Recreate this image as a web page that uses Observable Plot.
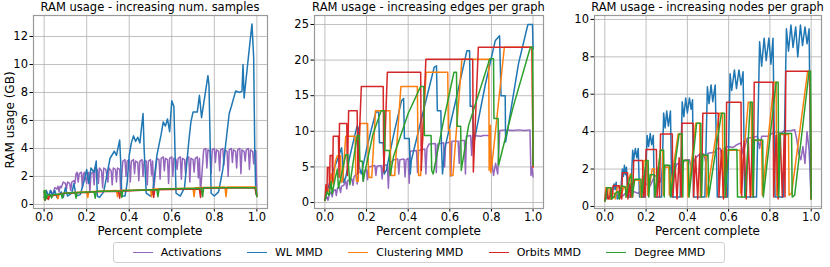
<!DOCTYPE html>
<html><head><meta charset="utf-8">
<script src="https://cdn.jsdelivr.net/npm/d3@7"></script>
<script src="https://cdn.jsdelivr.net/npm/@observablehq/plot@0.6"></script>
<style>
body{margin:0;background:#fff;}
#root{position:relative;width:830px;height:267px;font-family:"DejaVu Sans",sans-serif;color:#000;overflow:hidden}
.pl{position:absolute;top:0}
.title{position:absolute;top:0;font-size:11.5px;white-space:nowrap;transform:translateX(-50%);line-height:15px}
.xlab{position:absolute;top:226px;font-size:12px;white-space:nowrap;transform:translateX(-50%);line-height:11px}
.ylab{position:absolute;font-size:12px;white-space:nowrap;transform:translate(-50%,-50%) rotate(-90deg);line-height:14px}
#legend{position:absolute;left:113px;top:242px;width:612px;height:21px;border:1px solid #d0d0d0;border-radius:3px;display:flex;align-items:center;justify-content:space-around;font-size:11px;box-sizing:border-box;padding:0 6px}
.li{display:flex;align-items:center;gap:8px}
.sw{width:20px;height:0;border-top:1.5px solid}
</style></head>
<body><div id="root"></div>
<script>
const seriesNames = ["Activations","WL MMD","Clustering MMD","Orbits MMD","Degree MMD"];
const colors = ["#9467bd","#1f77b4","#ff7f0e","#d62728","#2ca02c"];
const titles = ["RAM usage - increasing num. samples","RAM usage - increasing edges per graph","RAM usage - increasing nodes per graph"];
const xTicks = [0,0.2,0.4,0.6,0.8,1.0];
const yTicks1 = [0,2,4,6,8,10,12];
const yTicks2 = [0,5,10,15,20,25];
const yTicks3 = [0,2,4,6,8,10];

// Panel 1: increasing num. samples
const p1Act = [[0,0.5],[0.01,1.0],[0.02,0.6],[0.03,1.0],[0.04,0.7],[0.05,1.2],[0.06,1.1],[0.065,1.3],[0.07,0.9],[0.075,1.3],[0.08,1.2],[0.09,1.6],[0.1,1.5],[0.105,1.1],[0.11,1.6],[0.12,1.5],[0.125,1.0],[0.13,1.6],[0.14,1.7],[0.145,1.5],[0.15,2.2],[0.155,2.3],[0.16,1.6],[0.165,2.2],[0.175,2.3],[0.18,1.2],[0.185,2.2],[0.19,2.3],[0.2,1.5],[0.205,2.2],[0.21,2.3],[0.215,0.9],[0.22,2.2],[0.23,2.3],[0.235,1.4],[0.24,2.6],[0.25,2.5],[0.255,1.5],[0.26,2.6],[0.27,2.4],[0.275,1.2],[0.28,2.6],[0.29,2.5],[0.3,1.6],[0.305,2.6],[0.315,2.4],[0.32,1.4],[0.325,2.6],[0.335,2.5],[0.34,1.6],[0.345,2.6],[0.355,2.5],[0.36,1.0],[0.37,3.1],[0.38,3.2],[0.385,2.0],[0.39,3.1],[0.4,3.2],[0.405,1.6],[0.41,3.1],[0.42,3.2],[0.425,2.2],[0.43,3.1],[0.44,3.0],[0.445,1.7],[0.45,3.1],[0.46,3.2],[0.465,2.0],[0.47,3.1],[0.48,3.1],[0.485,1.4],[0.49,3.1],[0.5,3.2],[0.505,2.1],[0.51,3.1],[0.515,1.0],[0.53,3.3],[0.54,3.2],[0.545,1.8],[0.55,3.3],[0.56,3.4],[0.565,2.4],[0.57,3.3],[0.58,3.2],[0.585,1.5],[0.59,3.3],[0.6,3.4],[0.605,2.0],[0.61,3.3],[0.62,3.2],[0.625,2.5],[0.63,3.3],[0.64,3.4],[0.645,1.8],[0.65,3.3],[0.66,3.2],[0.665,2.2],[0.67,3.3],[0.68,3.4],[0.685,1.6],[0.69,3.3],[0.7,3.2],[0.705,2.3],[0.71,3.3],[0.72,3.4],[0.725,1.9],[0.73,3.3],[0.735,0.8],[0.75,3.9],[0.76,4.0],[0.765,2.6],[0.77,3.9],[0.78,3.8],[0.785,2.2],[0.79,3.9],[0.8,4.0],[0.805,3.0],[0.81,3.9],[0.82,3.8],[0.825,2.4],[0.83,3.9],[0.84,4.0],[0.845,2.8],[0.85,3.9],[0.86,3.8],[0.865,2.0],[0.87,3.9],[0.88,4.0],[0.885,3.0],[0.89,3.9],[0.9,3.8],[0.905,2.6],[0.91,3.9],[0.92,4.0],[0.925,2.2],[0.93,3.9],[0.94,3.8],[0.945,3.1],[0.95,3.9],[0.96,4.0],[0.965,2.5],[0.97,3.9],[0.98,3.8],[0.985,2.9],[0.99,3.9],[0.995,3.8],[1.0,0.7]];
const p1WL = [[0,0.5],[0.01,1.0],[0.02,0.5],[0.03,1.0],[0.04,0.6],[0.05,1.0],[0.06,0.5],[0.08,0.9],[0.09,0.5],[0.1,1.2],[0.11,0.6],[0.13,0.8],[0.14,1.5],[0.15,0.6],[0.17,0.7],[0.19,1.8],[0.2,2.5],[0.21,1.5],[0.22,2.6],[0.235,2.3],[0.245,3.1],[0.25,0.6],[0.26,0.5],[0.28,0.9],[0.3,2.5],[0.31,3.3],[0.33,3.8],[0.34,3.5],[0.355,4.6],[0.36,3.0],[0.365,0.6],[0.38,0.6],[0.39,1.5],[0.4,3.5],[0.41,4.4],[0.42,4.9],[0.43,4.5],[0.44,4.8],[0.45,4.4],[0.465,6.5],[0.47,4.0],[0.48,0.8],[0.5,0.6],[0.51,0.8],[0.53,3.5],[0.55,5.0],[0.56,5.9],[0.57,5.6],[0.58,6.1],[0.59,5.2],[0.6,7.4],[0.61,7.0],[0.62,0.8],[0.64,0.6],[0.66,1.2],[0.68,4.5],[0.69,5.9],[0.7,6.6],[0.72,6.6],[0.73,7.8],[0.74,6.2],[0.77,9.2],[0.775,8.5],[0.785,0.8],[0.8,0.6],[0.82,0.9],[0.84,2.5],[0.87,6.5],[0.88,7.0],[0.9,8.1],[0.92,8.0],[0.93,8.1],[0.935,10.0],[0.94,7.6],[0.96,10.5],[0.977,12.9],[0.985,10.5],[0.99,4.0],[0.995,0.8],[1.0,0.6]];
const p1Clu = [[0,0.4],[0.01,0.5],[0.03,0.6],[0.06,0.7],[0.065,0.4],[0.07,0.75],[0.1,0.8],[0.14,0.85],[0.2,0.9],[0.205,0.5],[0.21,0.9],[0.34,1.0],[0.345,0.55],[0.35,1.0],[0.5,1.05],[0.505,0.55],[0.51,1.1],[0.7,1.15],[0.705,0.55],[0.71,1.2],[0.85,1.25],[0.855,0.55],[0.86,1.25],[0.995,1.25],[1.0,0.6]];
const p1Orb = [[0,0.9],[0.005,0.3],[0.01,0.6],[0.02,0.35],[0.025,0.6],[0.06,0.7],[0.1,0.8],[0.2,0.85],[0.24,0.9],[0.35,0.95],[0.355,0.45],[0.36,0.95],[0.51,1.05],[0.515,0.5],[0.52,1.05],[0.73,1.1],[0.735,0.5],[0.74,1.15],[0.99,1.2],[1.0,0.6]];
const p1Deg = [[0,1.0],[0.003,0.3],[0.006,1.0],[0.01,0.4],[0.015,0.65],[0.03,0.7],[0.035,0.45],[0.04,0.7],[0.08,0.75],[0.085,0.45],[0.09,0.8],[0.145,0.85],[0.15,0.45],[0.155,0.85],[0.235,0.9],[0.24,0.45],[0.245,0.95],[0.36,0.95],[0.365,0.5],[0.37,1.0],[0.53,1.05],[0.535,0.55],[0.54,1.1],[0.74,1.15],[0.745,0.55],[0.75,1.2],[0.995,1.2],[1.0,0.55]];

// Panel 2: increasing edges per graph
const p2Act = [[0,0.3],[0.01,0.8],[0.015,0.3],[0.02,1.0],[0.03,1.5],[0.035,0.8],[0.04,1.6],[0.05,1.8],[0.055,1.0],[0.06,2.0],[0.07,2.2],[0.075,1.4],[0.08,2.3],[0.09,2.4],[0.1,3.0],[0.105,1.9],[0.11,3.1],[0.13,3.3],[0.135,2.4],[0.14,3.6],[0.15,4.0],[0.155,2.6],[0.16,4.2],[0.18,4.4],[0.185,3.0],[0.19,4.5],[0.2,4.6],[0.205,3.2],[0.21,5.0],[0.24,5.2],[0.245,3.8],[0.25,5.1],[0.27,5.2],[0.275,3.3],[0.28,5.2],[0.3,5.3],[0.305,2.0],[0.31,5.4],[0.33,6.0],[0.35,6.1],[0.355,4.0],[0.36,6.0],[0.38,6.1],[0.385,3.6],[0.39,6.0],[0.4,6.2],[0.405,2.7],[0.41,7.2],[0.44,7.3],[0.445,4.2],[0.45,7.3],[0.48,7.5],[0.485,4.0],[0.49,7.6],[0.5,8.2],[0.53,8.3],[0.535,4.2],[0.54,8.2],[0.57,8.4],[0.575,5.0],[0.58,8.3],[0.6,8.5],[0.605,3.7],[0.61,8.6],[0.64,8.6],[0.645,5.5],[0.65,8.7],[0.67,8.7],[0.675,4.0],[0.68,9.3],[0.7,9.4],[0.705,6.6],[0.71,9.4],[0.75,9.3],[0.76,9.4],[0.79,9.4],[0.8,6.0],[0.81,3.8],[0.82,5.5],[0.83,4.0],[0.84,10.1],[0.87,10.2],[0.9,10.1],[0.93,10.2],[0.96,10.1],[0.985,10.2],[0.99,3.8],[0.995,5.0],[1.0,3.6]];
const p2WL = [[0,0.3],[0.02,2.5],[0.04,4.5],[0.06,6.0],[0.08,7.7],[0.085,6.0],[0.09,2.8],[0.1,3.5],[0.12,6.5],[0.14,9.0],[0.155,10.8],[0.16,10.5],[0.165,5.0],[0.175,4.0],[0.2,7.5],[0.225,10.5],[0.245,12.7],[0.258,12.7],[0.262,8.4],[0.28,8.4],[0.285,4.0],[0.295,4.5],[0.33,9.5],[0.368,14.3],[0.378,14.6],[0.382,9.0],[0.405,9.0],[0.41,4.0],[0.415,5.9],[0.47,12.5],[0.525,19.0],[0.536,19.2],[0.54,12.9],[0.557,12.9],[0.56,7.8],[0.565,4.0],[0.575,7.5],[0.63,14.5],[0.682,21.3],[0.695,21.3],[0.698,13.5],[0.71,13.5],[0.713,8.0],[0.77,16.5],[0.818,22.7],[0.839,23.4],[0.846,15.0],[0.866,15.0],[0.868,8.5],[0.93,19.5],[0.975,25.0],[0.997,25.0],[1.0,21.6]];
const p2Clu = [[0,0.3],[0.01,2.0],[0.02,1.5],[0.03,4.0],[0.04,2.5],[0.05,5.8],[0.06,6.6],[0.075,6.6],[0.078,2.8],[0.085,3.0],[0.1,9.3],[0.145,9.3],[0.148,4.5],[0.152,3.0],[0.16,3.0],[0.168,11.1],[0.205,11.1],[0.208,5.5],[0.212,3.5],[0.225,3.5],[0.243,12.9],[0.312,12.9],[0.315,6.5],[0.318,3.8],[0.335,3.8],[0.365,16.3],[0.444,16.3],[0.447,8.0],[0.45,3.8],[0.46,3.8],[0.486,18.3],[0.59,18.3],[0.593,10.2],[0.6,10.2],[0.603,3.8],[0.615,3.8],[0.658,20.1],[0.787,20.1],[0.789,4.5],[0.79,10.8],[0.795,10.8],[0.797,4.2],[0.807,6.6],[0.862,21.8],[0.995,21.8],[1.0,5.0]];
const p2Orb = [[0,0.3],[0.005,2.5],[0.01,1.5],[0.012,4.9],[0.02,4.9],[0.022,2.0],[0.025,6.6],[0.035,6.6],[0.037,3.0],[0.04,9.3],[0.065,9.3],[0.068,3.5],[0.07,11.1],[0.105,11.1],[0.108,3.8],[0.114,12.9],[0.155,12.9],[0.158,4.0],[0.175,16.3],[0.28,16.3],[0.283,4.3],[0.3,18.3],[0.46,18.3],[0.463,4.5],[0.485,20.1],[0.71,20.1],[0.713,4.3],[0.737,21.8],[0.995,21.8],[1.0,5.0]];
const p2Deg = [[0,0.3],[0.01,1.5],[0.02,1.0],[0.03,3.0],[0.035,1.2],[0.05,3.5],[0.06,4.7],[0.065,2.0],[0.08,4.0],[0.1,6.7],[0.11,6.7],[0.115,4.5],[0.12,2.5],[0.14,6.5],[0.155,9.4],[0.165,9.4],[0.168,5.8],[0.18,5.8],[0.183,3.0],[0.23,9.5],[0.27,12.9],[0.285,12.9],[0.288,7.3],[0.31,7.3],[0.313,3.8],[0.33,6.5],[0.4,12.5],[0.46,16.3],[0.475,16.3],[0.478,9.4],[0.51,9.4],[0.513,4.5],[0.52,4.0],[0.57,11.5],[0.62,18.3],[0.632,18.3],[0.635,10.7],[0.652,10.7],[0.655,4.5],[0.69,10.8],[0.792,20.2],[0.81,20.2],[0.812,11.8],[0.832,11.8],[0.834,5.2],[0.905,13.5],[0.987,21.8],[0.998,21.8],[1.0,5.2]];

// Panel 3: increasing nodes per graph
const p3Act = [[0,0.3],[0.01,0.5],[0.02,0.4],[0.04,0.5],[0.06,0.6],[0.08,0.5],[0.1,0.7],[0.12,0.6],[0.14,0.8],[0.16,0.7],[0.18,0.9],[0.2,1.2],[0.22,1.1],[0.24,1.6],[0.26,1.7],[0.27,1.3],[0.28,2.0],[0.3,2.2],[0.32,2.1],[0.33,1.6],[0.35,2.3],[0.37,2.2],[0.39,2.5],[0.41,2.5],[0.42,2.0],[0.44,2.6],[0.46,2.8],[0.48,2.8],[0.49,2.3],[0.5,2.85],[0.53,2.9],[0.545,3.1],[0.56,3.1],[0.57,2.5],[0.58,3.15],[0.6,3.2],[0.62,3.15],[0.64,3.3],[0.66,3.4],[0.67,2.8],[0.69,3.65],[0.72,3.7],[0.74,3.75],[0.75,3.1],[0.76,3.75],[0.79,3.75],[0.81,3.9],[0.83,4.0],[0.85,3.9],[0.87,4.05],[0.9,4.05],[0.92,4.1],[0.93,3.6],[0.94,2.8],[0.95,2.5],[0.96,3.2],[0.97,2.3],[0.98,4.0],[0.99,3.0],[1.0,0.4]];
const p3WL = [[0,0.3],[0.005,0.9],[0.015,0.5],[0.025,0.6],[0.03,0.4],[0.045,1.2],[0.05,0.9],[0.055,1.3],[0.06,0.4],[0.075,0.5],[0.085,2.0],[0.09,1.6],[0.095,2.2],[0.1,1.7],[0.105,2.1],[0.11,0.5],[0.125,0.5],[0.135,3.0],[0.14,2.5],[0.148,3.1],[0.155,2.6],[0.162,3.1],[0.168,0.5],[0.195,0.5],[0.205,3.8],[0.212,3.2],[0.22,3.9],[0.227,3.3],[0.235,3.8],[0.24,0.5],[0.275,0.5],[0.285,5.0],[0.292,4.2],[0.3,5.1],[0.308,4.3],[0.318,5.1],[0.325,0.5],[0.365,0.5],[0.375,5.6],[0.383,4.8],[0.392,5.8],[0.4,5.0],[0.41,5.8],[0.418,5.2],[0.425,5.7],[0.43,0.5],[0.485,0.5],[0.497,6.4],[0.505,5.5],[0.515,6.5],[0.523,5.6],[0.535,6.5],[0.545,0.5],[0.595,0.5],[0.607,7.1],[0.615,6.2],[0.628,7.3],[0.638,6.3],[0.65,7.3],[0.66,6.5],[0.67,7.2],[0.678,0.5],[0.735,0.5],[0.75,8.8],[0.76,7.5],[0.772,9.0],[0.782,7.8],[0.795,9.0],[0.805,7.6],[0.815,9.0],[0.825,0.5],[0.865,0.5],[0.88,9.5],[0.89,8.3],[0.902,9.7],[0.912,8.5],[0.925,9.6],[0.935,8.0],[0.948,9.7],[0.958,8.6],[0.97,9.6],[0.98,8.7],[0.99,9.5],[0.998,0.5]];
const p3Clu = [[0,0.3],[0.005,1.0],[0.02,1.0],[0.022,0.4],[0.03,0.4],[0.035,0.7],[0.045,0.7],[0.05,0.4],[0.06,1.0],[0.075,1.1],[0.078,0.5],[0.09,1.0],[0.1,1.0],[0.103,0.5],[0.11,1.4],[0.125,1.75],[0.13,0.5],[0.14,1.4],[0.17,1.4],[0.173,0.5],[0.19,2.45],[0.205,2.45],[0.208,0.6],[0.23,2.0],[0.24,2.0],[0.243,0.5],[0.27,3.0],[0.28,3.0],[0.283,0.6],[0.29,2.1],[0.31,2.1],[0.313,0.6],[0.355,3.87],[0.37,3.87],[0.373,0.5],[0.38,2.45],[0.4,2.45],[0.403,0.5],[0.44,4.45],[0.46,4.45],[0.463,0.5],[0.47,2.7],[0.49,2.7],[0.493,0.5],[0.555,4.98],[0.57,4.98],[0.573,0.5],[0.58,3.0],[0.655,3.0],[0.658,0.7],[0.695,5.57],[0.71,5.57],[0.713,0.6],[0.72,3.53],[0.76,3.53],[0.763,0.6],[0.82,6.64],[0.83,6.64],[0.833,0.6],[0.84,3.85],[0.89,3.85],[0.893,0.6],[0.905,0.7],[0.983,7.23],[0.995,7.23],[1.0,0.4]];
const p3Orb = [[0,0.3],[0.01,1.0],[0.015,0.4],[0.025,0.5],[0.03,1.0],[0.035,0.4],[0.04,1.1],[0.07,1.1],[0.072,0.4],[0.078,0.8],[0.082,0.4],[0.085,1.8],[0.11,1.8],[0.112,0.4],[0.12,1.2],[0.125,0.5],[0.13,1.3],[0.135,0.5],[0.14,2.45],[0.183,2.45],[0.186,0.5],[0.19,1.6],[0.195,0.5],[0.2,3.05],[0.25,3.05],[0.253,0.5],[0.26,2.1],[0.265,0.5],[0.27,3.87],[0.327,3.87],[0.33,0.5],[0.34,2.3],[0.35,0.4],[0.36,2.6],[0.37,0.5],[0.374,4.45],[0.428,4.45],[0.43,0.5],[0.44,2.7],[0.45,0.4],[0.46,2.8],[0.468,0.5],[0.475,4.98],[0.55,4.98],[0.553,0.5],[0.565,3.0],[0.575,0.4],[0.585,3.1],[0.588,0.5],[0.59,5.57],[0.66,5.57],[0.663,0.5],[0.675,3.5],[0.685,0.4],[0.695,3.6],[0.705,0.5],[0.715,3.6],[0.72,0.5],[0.724,6.64],[0.815,6.64],[0.818,0.5],[0.83,3.8],[0.84,0.4],[0.85,3.9],[0.86,0.5],[0.87,3.9],[0.873,0.5],[0.877,7.23],[0.995,7.23],[1.0,0.4]];
const p3Deg = [[0,0.3],[0.005,0.4],[0.01,1.0],[0.03,1.0],[0.032,0.4],[0.045,0.5],[0.05,0.7],[0.065,0.8],[0.07,0.4],[0.08,1.1],[0.1,1.05],[0.103,0.5],[0.12,1.5],[0.13,1.7],[0.133,0.5],[0.145,1.45],[0.175,1.45],[0.178,0.5],[0.2,2.45],[0.21,2.45],[0.213,0.5],[0.22,1.7],[0.24,1.7],[0.243,0.5],[0.27,3.0],[0.285,3.0],[0.288,0.5],[0.29,2.2],[0.315,2.2],[0.318,0.5],[0.36,3.87],[0.375,3.87],[0.378,0.5],[0.38,2.45],[0.405,2.45],[0.408,0.5],[0.445,4.45],[0.465,4.45],[0.468,0.5],[0.475,2.75],[0.5,2.75],[0.503,0.5],[0.565,4.98],[0.58,4.98],[0.583,0.5],[0.6,3.05],[0.64,3.05],[0.643,0.5],[0.68,0.5],[0.705,5.57],[0.715,5.57],[0.718,0.5],[0.725,3.55],[0.765,3.55],[0.768,0.5],[0.83,6.64],[0.84,6.64],[0.843,0.5],[0.85,3.9],[0.905,3.9],[0.908,0.5],[0.92,0.6],[0.99,7.23],[0.997,7.23],[1.0,0.4]];

const panels = [
  {series:[p1Act,p1WL,p1Clu,p1Orb,p1Deg], yDomain:[-0.29,13.5], yTicks:yTicks1, left:0, width:275, ml:33, mr:8},
  {series:[p2Act,p2WL,p2Clu,p2Orb,p2Deg], yDomain:[-0.84,26.26], yTicks:yTicks2, left:275, width:275, ml:39, mr:7},
  {series:[p3Act,p3WL,p3Clu,p3Orb,p3Deg], yDomain:[-0.11,10.21], yTicks:yTicks3, left:550, width:280, ml:44, mr:9}
];

const root = document.getElementById("root");
panels.forEach((p, i) => {
  const rows = p.series.flatMap((pts, k) => pts.map(([x, y]) => ({name: seriesNames[k], x, y})));
  const svg = Plot.plot({
    width: p.width, height: 230,
    marginLeft: p.ml, marginRight: p.mr, marginTop: 15, marginBottom: 22,
    style: {fontFamily: "DejaVu Sans, sans-serif", fontSize: "11.5px", color: "#000", background: "transparent"},
    x: {domain: [-0.05, 1.05], ticks: xTicks, tickFormat: d3.format(".1f"), label: null, tickSize: 3.5, tickPadding: 1},
    y: {domain: p.yDomain, ticks: p.yTicks, label: null, tickSize: 3.5, tickPadding: 2},
    color: {domain: seriesNames, range: colors},
    marks: [
      Plot.gridX(xTicks, {stroke: "#b0b0b0", strokeOpacity: 0.8, strokeWidth: 1}),
      Plot.gridY(p.yTicks, {stroke: "#b0b0b0", strokeOpacity: 0.8, strokeWidth: 1}),
      Plot.line(rows, {x: "x", y: "y", z: "name", stroke: "name", strokeWidth: 1.5, strokeLinejoin: "round"}),
      Plot.frame({stroke: "#999", strokeWidth: 1.2})
    ]
  });
  svg.classList.add("pl");
  svg.style.left = p.left + "px";
  root.appendChild(svg);
  const cx = p.left + p.ml + (p.width - p.ml - p.mr) / 2;
  const t = document.createElement("div");
  t.className = "title"; t.textContent = titles[i]; t.style.left = cx + "px";
  root.appendChild(t);
  const xl = document.createElement("div");
  xl.className = "xlab"; xl.textContent = "Percent complete"; xl.style.left = cx + "px";
  root.appendChild(xl);
});
const yl = document.createElement("div");
yl.className = "ylab"; yl.textContent = "RAM usage (GB)";
yl.style.left = "10px"; yl.style.top = "120px";
root.appendChild(yl);

const leg = document.createElement("div");
leg.id = "legend";
seriesNames.forEach((n, k) => {
  const it = document.createElement("div"); it.className = "li";
  const sw = document.createElement("span"); sw.className = "sw"; sw.style.borderColor = colors[k];
  const tx = document.createElement("span"); tx.textContent = n;
  it.appendChild(sw); it.appendChild(tx); leg.appendChild(it);
});
root.appendChild(leg);
</script></body></html>
